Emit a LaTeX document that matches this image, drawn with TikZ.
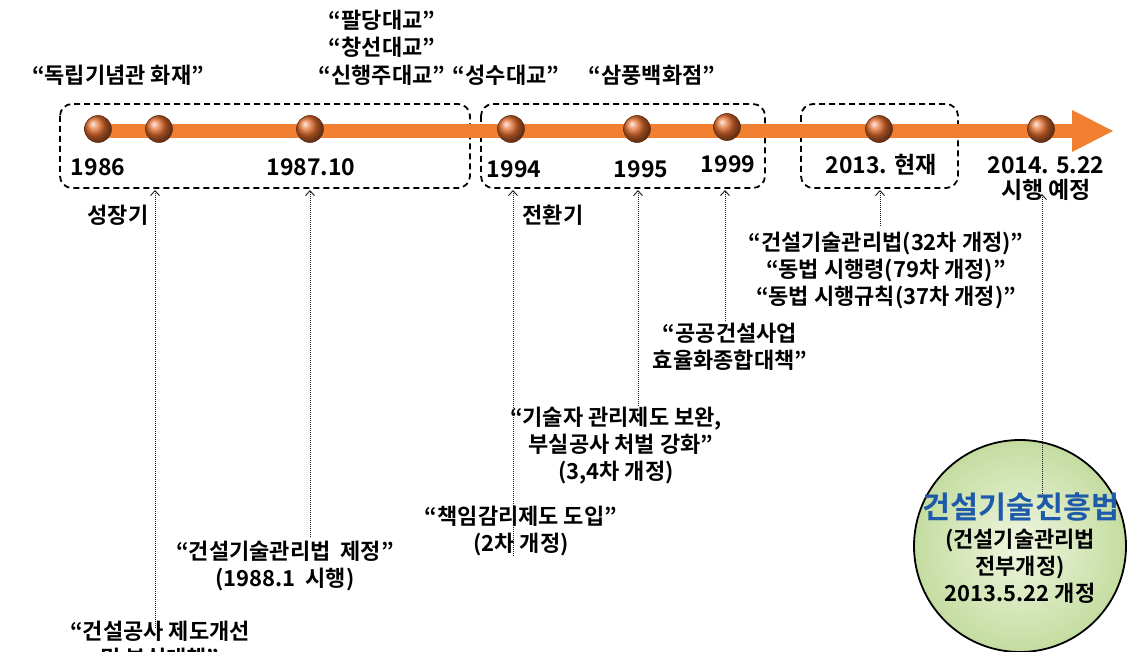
\documentclass[tikz,border=0pt]{standalone}
\usepackage{fontspec}
\setmainfont{Noto Sans CJK KR}[BoldFont={Noto Sans CJK KR Bold}]
\usetikzlibrary{arrows.meta,shapes.geometric}
\definecolor{barorange}{RGB}{240,128,48}
\definecolor{ballc}{RGB}{225,108,45}
\definecolor{titleblue}{RGB}{30,90,170}
\definecolor{circin}{RGB}{240,246,224}
\definecolor{circout}{RGB}{196,220,160}
\tikzset{
  lbl/.style={font=\bfseries\fontsize{22}{27}\selectfont, inner sep=0pt, align=center, text=black},
  datelbl/.style={font=\bfseries\fontsize{23}{27}\selectfont, inner sep=0pt, text=black},
  ballnode/.style={circle, minimum size=27pt, inner sep=0pt, ball color=ballc, draw=ballc!45!black, line width=0.6pt},
  periodbox/.style={draw=black, line width=1.8pt, dash pattern=on 6pt off 4pt, rounded corners=12pt},
  linkarrow/.style={draw=black!90, line width=1pt, densely dotted, -{Straight Barb[length=5pt,width=9pt,line width=0.9pt]}}
}
\begin{document}
\begin{tikzpicture}[x=1pt,y=-1pt]
\useasboundingbox (0,0) rectangle (1128,652);
\fill[white] (0,0) rectangle (1128,652);

% dashed period boxes
\draw[periodbox] (60,104) rectangle (470,188);
\draw[periodbox] (481,104) rectangle (765,188);
\draw[periodbox] (801,104) rectangle (958,188);

% timeline bar and arrow
\fill[barorange] (98,124) rectangle (1074,138);
\fill[barorange] (1072,110) -- (1113,131) -- (1072,152) -- cycle;

% spheres
\node[ballnode] (s1) at (98,129) {};
\node[ballnode] (s2) at (159,129) {};
\node[ballnode] (s3) at (310,129) {};
\node[ballnode] (s4) at (511,129) {};
\node[ballnode] (s5) at (637,129) {};
\node[ballnode] (s6) at (727,127) {};
\node[ballnode] (s7) at (879,129) {};
\node[ballnode] (s8) at (1041,129) {};

% dates
\node[datelbl] (d1) at (98,167) {1986};
\node[datelbl] (d2) at (311,167) {1987.10};
\node[datelbl] (d3) at (514,169) {1994};
\node[datelbl] (d4) at (641,169) {1995};
\node[datelbl] (d5) at (728,164) {1999};
\node[datelbl] (d6) at (881,165) {2013. 현재};
\node[datelbl] (d7) at (1046,165) {2014. 5.22};
\node[datelbl] (d8) at (1046,190) {시행 예정};

% top event labels
\node[lbl] (t1) at (118,75) {“독립기념관 화재”};
\node[lbl] (t2) at (382,20) {“팔당대교”};
\node[lbl] (t3) at (382,47) {“창선대교”};
\node[lbl] (t4) at (382,75) {“신행주대교”};
\node[lbl] (t5) at (506,75) {“성수대교”};
\node[lbl] (t6) at (652,75) {“삼풍백화점”};

% period names
\node[lbl] (p1) at (118,215) {성장기};
\node[lbl] (p2) at (553,215) {전환기};

% annotations
\node[lbl] (n1) at (160,645) {“건설공사 제도개선\\및 부실대책”};
\node[lbl] (n2) at (285,566) {“건설기술관리법~~제정”\\(1988.1~~시행)};
\node[lbl] (n3) at (521,531) {“책임감리제도 도입”\\(2차 개정)};
\node[lbl] (n4) at (616,446) {“기술자 관리제도 보완,\\~~부실공사 처벌 강화”\\(3,4차 개정)};
\node[lbl] (n5) at (730,347) {“공공건설사업\\효율화종합대책”};
\node[lbl] (n6) at (886,270) {“건설기술관리법(32차 개정)”\\“동법 시행령(79차 개정)”\\“동법 시행규칙(37차 개정)”};

% circle
\node[circle, minimum size=212pt, inner sep=0pt, draw=black, line width=1.8pt,
      inner color=circin, outer color=circout] (c) at (1020,546) {};
\node[font=\bfseries\fontsize{30.5}{32}\selectfont, text=titleblue, inner sep=0pt] (ct) at (1021,507) {건설기술진흥법};
\node[lbl] (cb) at (1020,566) {(건설기술관리법\\전부개정)\\2013.5.22 개정};

% connector endpoints
\coordinate (e1) at (155,628);
\coordinate (f1) at (155,190);
\coordinate (e2) at (310,537);
\coordinate (f2) at (310,190);
\coordinate (e3) at (513,556);
\coordinate (f3) at (513,190);
\coordinate (e4) at (638,406);
\coordinate (f4) at (638,190);
\coordinate (e5) at (725,321);
\coordinate (f5) at (725,190);
\coordinate (e6) at (880,226);
\coordinate (f6) at (880,190);
\coordinate (e7) at (1042,494);
\coordinate (f7) at (1042,194);

\draw[linkarrow] (e1) -- (f1);
\draw[linkarrow] (e2) -- (f2);
\draw[linkarrow] (e3) -- (f3);
\draw[linkarrow] (e4) -- (f4);
\draw[linkarrow] (e5) -- (f5);
\draw[linkarrow] (e6) -- (f6);
\draw[linkarrow] (e7) -- (f7);
\end{tikzpicture}
\end{document}
